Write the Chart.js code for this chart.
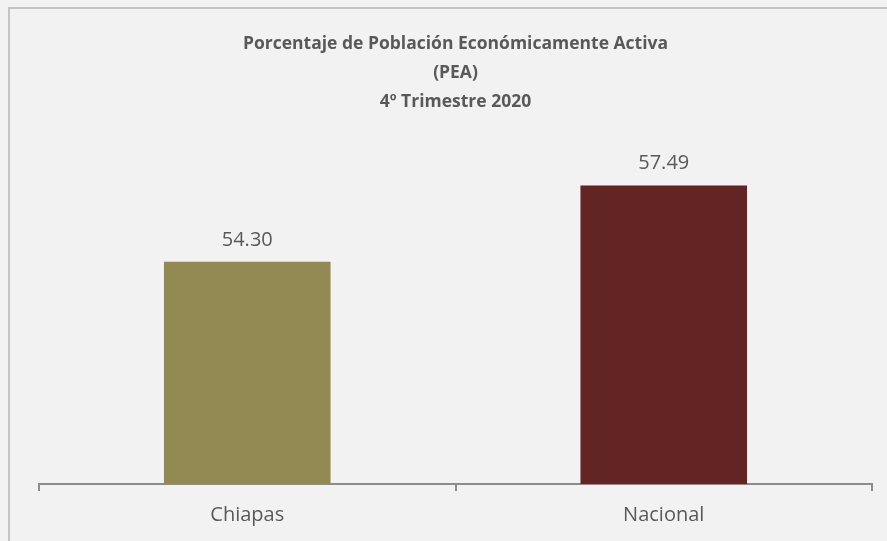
<!DOCTYPE html>
<html>
<head>
<meta charset="utf-8">
<script src="https://cdn.jsdelivr.net/npm/chart.js@4.4.1/dist/chart.umd.min.js"></script>
<style>
  html, body { margin: 0; padding: 0; background: #F2F2F2; }
  #wrap { width: 887px; height: 541px; position: relative; }
</style>
</head>
<body>
<div id="wrap"><canvas id="chart"></canvas></div>
<script>
const categories = ['Chiapas', 'Nacional'];
const values = [54.30, 57.49];
const barColors = ['#938953', '#632523'];
const titleLines = ['Porcentaje de Población Económicamente Activa', '(PEA)', '4º Trimestre 2020'];

const textGray = '#595959';

// background + frame like the spreadsheet chart area
const frame = {
  id: 'frame',
  beforeDraw(chart) {
    const ctx = chart.ctx;
    ctx.save();
    ctx.fillStyle = '#F2F2F2';
    ctx.fillRect(0, 0, chart.width, chart.height);
    ctx.strokeStyle = '#C4C4C4';
    ctx.lineWidth = 2;
    ctx.strokeRect(9, 8, chart.width + 20, chart.height + 20);
    ctx.restore();
  }
};

// value labels above the bars
const valueLabels = {
  id: 'valueLabels',
  afterDatasetsDraw(chart) {
    const ctx = chart.ctx;
    const meta = chart.getDatasetMeta(0);
    ctx.save();
    ctx.fillStyle = textGray;
    ctx.font = '20px "Open Sans"';
    ctx.textAlign = 'center';
    ctx.textBaseline = 'middle';
    meta.data.forEach((bar, i) => {
      ctx.fillText(values[i].toFixed(2), bar.x, bar.y - 22);
    });
    ctx.restore();
  }
};

new Chart(document.getElementById('chart'), {
  type: 'bar',
  data: {
    labels: categories,
    datasets: [{
      data: values,
      backgroundColor: barColors,
      barPercentage: 0.4,
      categoryPercentage: 1.0
    }]
  },
  options: {
    responsive: true,
    maintainAspectRatio: false,
    animation: false,
    layout: { padding: { left: 39, right: 15, top: 0, bottom: 2 } },
    plugins: {
      legend: { display: false },
      tooltip: { enabled: false },
      title: {
        display: true,
        text: titleLines,
        color: textGray,
        font: { family: '"Open Sans"', size: 17.5, weight: 'bold', lineHeight: 1.65 },
        padding: { top: 30, bottom: 9 }
      }
    },
    scales: {
      x: {
        grid: {
          drawOnChartArea: false,
          drawTicks: true,
          tickLength: 7,
          color: '#8C8C8C',
          lineWidth: 2
        },
        border: { display: true, color: '#8C8C8C', width: 2 },
        ticks: {
          color: textGray,
          font: { family: '"Open Sans"', size: 20 },
          padding: 12
        }
      },
      y: {
        display: false,
        min: 45,
        max: 60
      }
    }
  },
  plugins: [frame, valueLabels]
});
</script>
</body>
</html>
